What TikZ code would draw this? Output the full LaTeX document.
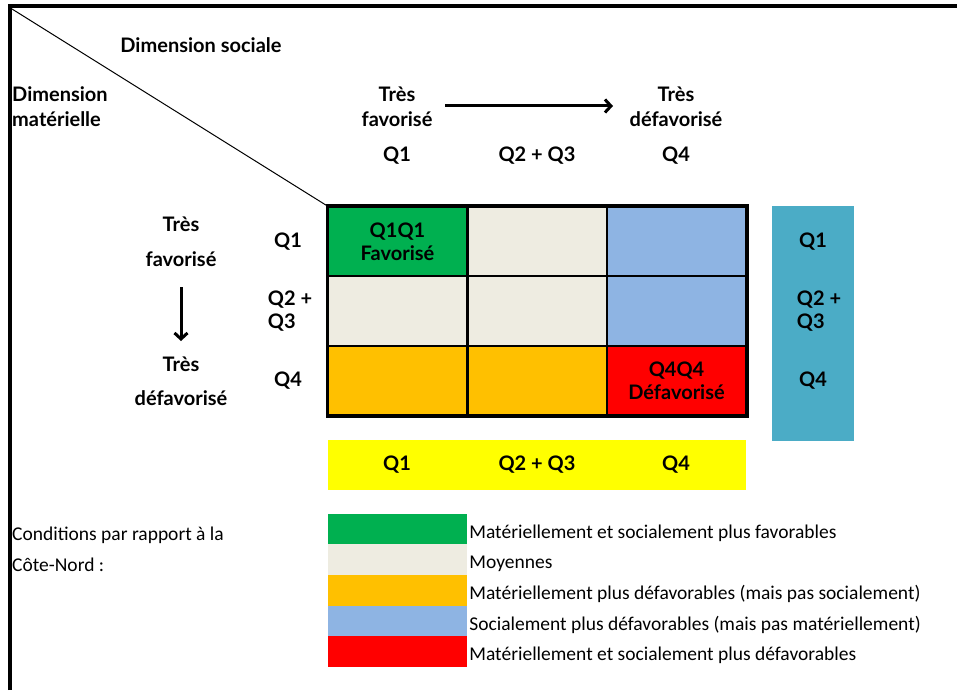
\documentclass[tikz,border=0pt]{standalone}
\usepackage{fontspec}
\setmainfont{Carlito}
\newfontfamily\headfont{Lato}
\usetikzlibrary{arrows.meta,positioning}

\definecolor{cellgreen}{HTML}{00B050}
\definecolor{cellbeige}{HTML}{EEECE1}
\definecolor{cellblue}{HTML}{8EB4E3}
\definecolor{cellorange}{HTML}{FFC000}
\definecolor{cellred}{HTML}{FF0000}
\definecolor{barteal}{HTML}{4BACC6}
\definecolor{baryellow}{HTML}{FFFF00}

\begin{document}
\begin{tikzpicture}[
  x=1pt, y=-1pt,
  headtext/.style={
    font=\headfont\bfseries\fontsize{20}{23}\selectfont,
    inner sep=0pt,
    align=center
  },
  cell/.style={
    draw,
    line width=2pt,
    minimum width=139pt,
    minimum height=69.5pt,
    inner sep=0pt
  },
  swatch/.style={
    minimum width=139pt,
    minimum height=30.6pt,
    inner sep=0pt
  },
  legtext/.style={
    font=\fontsize{19.5}{31}\selectfont,
    inner sep=0pt,
    anchor=west
  },
  bigarrow/.style={
    line width=3pt,
    -{Straight Barb[length=6pt,width=13pt]}
  }
]
  \useasboundingbox (0,0) rectangle (957,690);

  % frame
  \coordinate (frametop) at (8,6);
  \coordinate (frameright) at (957,6);
  \coordinate (framebottom) at (10,690);
  \draw[line width=4pt] (framebottom) -- (10,4) (frametop) -- (frameright);

  % headers
  \node[headtext] (social) at (201,45) {Dimension sociale};
  \node[headtext,anchor=west,align=left,
    font=\headfont\bfseries\fontsize{20}{25}\selectfont] (material) at (12,107)
    {Dimension\\matérielle};
  \node[headtext,font=\headfont\bfseries\fontsize{20}{25}\selectfont]
    (topfav) at (397,107) {Très\\favorisé};
  \node[headtext,font=\headfont\bfseries\fontsize{20}{25}\selectfont]
    (topdefav) at (676,107) {Très\\défavorisé};
  \node[headtext] (topq1) at (397,156) {Q1};
  \node[headtext] (topq23) at (537,156) {Q2 + Q3};
  \node[headtext] (topq4) at (676,156) {Q4};
  \coordinate (hstart) at (445,106);
  \coordinate (hend) at (613,106);
  \draw[bigarrow] (hstart) -- (hend);

  % grid
  \node[cell,fill=cellgreen] (c11) at (397.5,241.5) {};
  \node[cell,fill=cellbeige] (c12) at (537,241.5) {};
  \node[cell,fill=cellblue] (c13) at (676.5,241.5) {};
  \node[cell,fill=cellbeige] (c21) at (397.5,311) {};
  \node[cell,fill=cellbeige] (c22) at (537,311) {};
  \node[cell,fill=cellblue] (c23) at (676.5,311) {};
  \node[cell,fill=cellorange] (c31) at (397.5,380.5) {};
  \node[cell,fill=cellorange] (c32) at (537,380.5) {};
  \node[cell,fill=cellred] (c33) at (676.5,380.5) {};
  \draw[line width=3pt] (c11.north west) rectangle (c33.south east);
  \node[headtext] (best) at (c11) {Q1Q1\\Favorisé};
  \node[headtext] (worst) at (c33) {Q4Q4\\Défavorisé};

  \coordinate (corner) at (12,9);
  \draw[line width=1pt] (corner) -- (c11.north west);

  % rows
  \node[headtext] (rowq1) at (288,242) {Q1};
  \node[headtext,align=left] (rowq23) at (290,311) {Q2 +\\Q3};
  \node[headtext] (rowq4) at (288,381) {Q4};
  \node[headtext,font=\headfont\bfseries\fontsize{20}{35}\selectfont]
    (leftfav) at (181,242) {Très\\favorisé};
  \node[headtext,font=\headfont\bfseries\fontsize{20}{34}\selectfont]
    (leftdefav) at (181,381) {Très\\défavorisé};
  \coordinate (vstart) at (181,287);
  \coordinate (vend) at (181,341);
  \draw[bigarrow] (vstart) -- (vend);

  % side bars
  \node[fill=barteal,minimum width=82pt,minimum height=235pt,inner sep=0pt]
    (tealbar) at (813,323.5) {};
  \node[headtext] (tealq1) at (813,242) {Q1};
  \node[headtext,align=left] (tealq23) at (819,311) {Q2 +\\Q3};
  \node[headtext] (tealq4) at (813,381) {Q4};
  \node[fill=baryellow,minimum width=418pt,minimum height=50pt,inner sep=0pt]
    (yellowbar) at (537,465) {};
  \node[headtext] (yellowq1) at (397,465) {Q1};
  \node[headtext] (yellowq23) at (537,465) {Q2 + Q3};
  \node[headtext] (yellowq4) at (676,465) {Q4};

  % legend
  \node[legtext,align=left] (legtitle) at (12,549)
    {Conditions par rapport à la\\Côte-Nord :};
  \node[swatch,fill=cellgreen] (sw1) at (397.5,529) {};
  \node[swatch,fill=cellbeige] (sw2) at (397.5,559.6) {};
  \node[swatch,fill=cellorange] (sw3) at (397.5,590.2) {};
  \node[swatch,fill=cellblue] (sw4) at (397.5,620.8) {};
  \node[swatch,fill=cellred] (sw5) at (397.5,651.4) {};
  \node[legtext,right=2pt of sw1,yshift=-4pt] (leg1)
    {Matériellement et socialement plus favorables};
  \node[legtext,right=2pt of sw2,yshift=-4pt] (leg2) {Moyennes};
  \node[legtext,right=2pt of sw3,yshift=-4pt] (leg3)
    {Matériellement plus défavorables (mais pas socialement)};
  \node[legtext,right=2pt of sw4,yshift=-4pt] (leg4)
    {Socialement plus défavorables (mais pas matériellement)};
  \node[legtext,right=2pt of sw5,yshift=-4pt] (leg5)
    {Matériellement et socialement plus défavorables};
\end{tikzpicture}
\end{document}
